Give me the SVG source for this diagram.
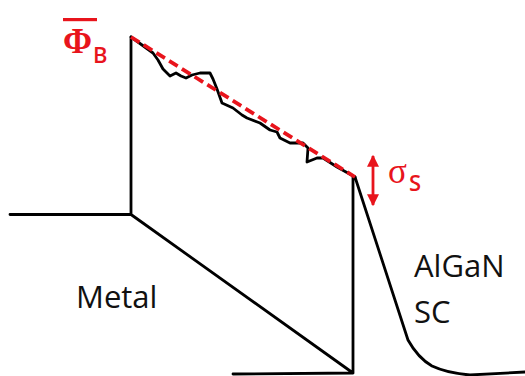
<svg xmlns="http://www.w3.org/2000/svg" width="525" height="376" viewBox="0 0 525 376">
<defs>
<style>
.band{fill:none;stroke:#000;stroke-width:2.8;stroke-linejoin:round;stroke-linecap:round}
.red{fill:#e8141c}
.lbl{font-family:"Open Sans","Liberation Sans",sans-serif;fill:#111;font-size:31px}
.sub{font-family:"Open Sans","Liberation Sans",sans-serif;font-size:22px;font-weight:600}
.sym{font-family:"Liberation Serif","DejaVu Serif",serif}
</style>
<marker id="ah" viewBox="0 0 10 10" refX="9" refY="5" markerWidth="12" markerHeight="12" orient="auto-start-reverse" markerUnits="userSpaceOnUse">
<path d="M0,0 L10,5 L0,10 z" fill="#e8141c"/>
</marker>
</defs>
<rect width="525" height="376" fill="#fff"/>
<g id="connectors">
<path class="band" d="M10,214.5 L131,214.5 L131,37 M131,214.5 L353,373 M233,374 L353,373 L353,177 M355,177 L408,340 Q418,358 432,366 Q447,373 470,375 L525,372"/>
<path class="band" d="M131,37 L153,53 L158,60 L163,69 L170,76 L176,73 L181,76 L186,78 L192,75 L200,73 L210,73 L213,79 L217,89 L222,103 L233,108 L242,115 L247,118 L260,123 L270,130 L277,132 L280,138 L290,143 L303,143 L308,148 L307,162 L317,158 L323,158 L337,167 L355,177"/>
<path d="M131,37 L355,177" fill="none" stroke="#e8141c" stroke-width="3.8" stroke-dasharray="10,5"/>
<path d="M373,156 L373,205" fill="none" stroke="#e8141c" stroke-width="2.8" marker-start="url(#ah)" marker-end="url(#ah)"/>
</g>
<g id="phiB">
<rect class="red" x="63" y="18" width="34" height="3.2"/>
<text class="red sym" x="63" y="53" font-size="35" font-weight="bold">Φ</text>
<text class="red sub" x="93" y="63">B</text>
</g>
<g id="sigmaS">
<text class="red sym" x="388" y="183" font-size="35">σ</text>
<text class="red sub" x="409" y="191">S</text>
</g>
<g id="metal">
<text class="lbl" x="76" y="308">Metal</text>
</g>
<g id="algan">
<text class="lbl" x="414" y="277">AlGaN</text>
<text class="lbl" x="414" y="323">SC</text>
</g>
</svg>
